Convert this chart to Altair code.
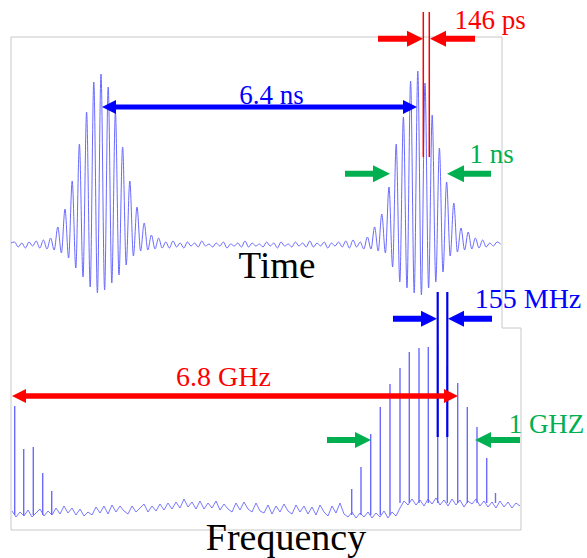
import altair as alt
import pandas as pd

# ---------------- data (chart units: 1 unit = 1 px, y measured downward) ----------------
# Time-domain trace, sampled every half oscillation period
time_start = 11.0
time_step = 3.6
time_vals = [243, 242, 247, 243, 248, 242, 246, 241, 248, 240,
             249, 238, 250, 227, 253, 209, 258, 181, 268, 144,
             277, 112, 287, 82, 293, 74, 290, 87, 283, 112,
             275, 147, 265, 181, 256, 207, 251, 223, 250, 235,
             249, 238, 248, 242, 248, 241, 247, 243, 248, 242,
             246, 243, 247, 241, 246, 244, 247, 243, 246, 242,
             248, 244, 246, 243, 247, 241, 247, 243, 246, 244,
             247, 242, 246, 243, 248, 242, 246, 244, 247, 242,
             246, 243, 247, 241, 247, 243, 246, 242, 248, 243,
             246, 242, 247, 241, 248, 240, 247, 242, 249, 237,
             249, 227, 251, 214, 253, 187, 267, 144, 282, 117,
             288, 81, 293, 71, 295, 83, 288, 115, 282, 148,
             272, 182, 256, 203, 252, 228, 250, 232, 249, 238,
             248, 240, 247, 243, 246, 242, 244]

# Spectrum noise floor
freq_start = 12.0
freq_step = 4.0
freq_noise = [511, 517, 512, 516, 510, 517, 513, 509, 516, 511,
              515, 508, 514, 506, 513, 508, 515, 509, 516, 512,
              515, 507, 513, 506, 514, 505, 512, 506, 511, 514,
              506, 512, 508, 504, 512, 506, 511, 504, 510, 503,
              509, 502, 508, 499, 507, 502, 509, 501, 509, 503,
              508, 501, 510, 504, 509, 512, 503, 510, 502, 509,
              512, 503, 511, 513, 505, 514, 506, 512, 504, 511,
              514, 505, 512, 506, 514, 507, 515, 505, 512, 516,
              506, 513, 503, 514, 517, 512, 518, 513, 517, 512,
              518, 513, 517, 511, 518, 512, 516, 508, 501, 505,
              499, 505, 500, 506, 499, 504, 498, 505, 500, 506,
              499, 505, 500, 507, 501, 504, 499, 506, 501, 507,
              502, 508, 501, 507, 502, 508, 503, 506]

# Spectral comb lines
comb_x = [14.7, 23.7, 33.3, 42.7, 51.7,
          351.7, 361.0, 370.7, 380.3, 390.0, 400.0, 409.3, 419.0, 428.3,
          437.7, 447.3, 457.7, 467.3, 477.0, 486.7, 495.5]
comb_top = [406, 449, 447, 473, 491,
            489, 467, 434, 407, 384, 368, 352, 348, 347,
            345, 366, 383, 407, 427, 458, 493]
comb_base = [515, 515, 515, 515, 515,
             515, 515, 515, 515, 515, 503, 503, 503, 503,
             503, 503, 503, 503, 503, 503, 503]

# Frame outline
frame_x = [11, 502, 502, 521, 521, 11, 11]
frame_y = [37, 37, 328, 328, 530, 530, 37]

# Text labels
labels = ["6.4 ns", "146 ps", "1 ns", "Time", "155 MHz", "6.8 GHz", "1 GHZ", "Frequency"]
label_x = [271.5, 490, 491.5, 277, 528, 223.5, 546.5, 286]
label_y = [104, 29, 163, 278, 308, 386, 433, 550]
label_color = ["#0000ff", "#ff0000", "#00b050", "#000000",
               "#0000ff", "#ff0000", "#00b050", "#000000"]
label_size = [27, 27, 27, 37, 28, 28, 27, 38]

# Arrows: y, tail x, tip x, colour, head half-size, shaft width
arrow_y = [107, 107, 38.7, 38.7, 173.7, 173.7, 318.7, 318.7, 396, 396, 440, 440]
arrow_tail = [259, 259, 378, 475, 345, 491, 393, 492, 235, 235, 327, 520]
arrow_tip = [102, 417, 423, 430, 390, 447, 437, 448, 12, 458, 371, 475]
arrow_color = ["#0000ff", "#0000ff", "#ff0000", "#ff0000", "#00b050", "#00b050",
               "#0000ff", "#0000ff", "#ff0000", "#ff0000", "#00b050", "#00b050"]
arrow_r = [7, 7, 8, 8, 8.5, 8.5, 8, 8, 7, 7, 8, 8]
arrow_w = [5, 5, 6, 6, 6, 6, 6, 6, 5.5, 5.5, 6, 6]

# Marker lines (period / comb spacing)
mark_x = [423.3, 429.3, 437.7, 447.3]
mark_top = [12, 12, 292, 292]
mark_bot = [157, 157, 437, 437]
mark_color = ["#ff0000", "#ff0000", "#0000ee", "#0000ee"]
mark_w = [1.5, 1.5, 2.2, 2.2]

# ---------------- tables ----------------
time_df = pd.DataFrame({"x": [time_start + time_step * i for i in range(len(time_vals))],
                        "y": time_vals})
noise_df = pd.DataFrame({"x": [freq_start + freq_step * i for i in range(len(freq_noise))],
                         "y": freq_noise})
comb_df = pd.DataFrame({"x": comb_x, "y": comb_top, "y2": comb_base})
frame_df = pd.DataFrame({"x": frame_x, "y": frame_y, "i": list(range(len(frame_x)))})
text_df = pd.DataFrame({"x": label_x, "y": label_y, "t": labels,
                        "c": label_color, "s": label_size})

right_path = "M-1,-1L1,0L-1,1Z"
left_path = "M1,-1L-1,0L1,1Z"
rows = []
for y, ta, ti, c, r, w in zip(arrow_y, arrow_tail, arrow_tip, arrow_color, arrow_r, arrow_w):
    d = 1 if ti > ta else -1
    hc = ti - d * r
    rows.append({"y": y, "x": ta, "x2": hc + d * 1, "hx": hc, "c": c,
                 "shape": right_path if d > 0 else left_path,
                 "size": (2 * r) ** 2, "w": w})
arrow_df = pd.DataFrame(rows)
mark_df = pd.DataFrame({"x": mark_x, "y": mark_top, "y2": mark_bot,
                        "c": mark_color, "w": mark_w})

xs = alt.Scale(domain=[0, 587], nice=False, zero=False)
ys = alt.Scale(domain=[0, 558], reverse=True, nice=False, zero=False)
X = lambda f="x": alt.X(f"{f}:Q", scale=xs, axis=None)
Y = lambda f="y": alt.Y(f"{f}:Q", scale=ys, axis=None)

frame = alt.Chart(frame_df).mark_line(color="#c8c8c8", strokeWidth=1).encode(
    x=X(), y=Y(), order=alt.Order("i:Q"))

trace_color = "#6a6aff"
time_line = alt.Chart(time_df).mark_line(color=trace_color, strokeWidth=1,
                                         interpolate="monotone").encode(x=X(), y=Y())
noise_line = alt.Chart(noise_df).mark_line(color=trace_color, strokeWidth=0.9).encode(
    x=X(), y=Y())
comb = alt.Chart(comb_df).mark_rule(color=trace_color, strokeWidth=1.4).encode(
    x=X(), y=Y(), y2=alt.Y2("y2:Q"))

markers = alt.Chart(mark_df).mark_rule().encode(
    x=X(), y=Y(), y2=alt.Y2("y2:Q"),
    color=alt.Color("c:N", scale=None),
    strokeWidth=alt.StrokeWidth("w:Q", scale=None))

shafts = alt.Chart(arrow_df).mark_rule(strokeCap="butt").encode(
    x=X(), x2=alt.X2("x2:Q"), y=Y(),
    color=alt.Color("c:N", scale=None),
    strokeWidth=alt.StrokeWidth("w:Q", scale=None))
heads = alt.Chart(arrow_df).mark_point(filled=True, opacity=1, strokeWidth=0).encode(
    x=X("hx"), y=Y(),
    shape=alt.Shape("shape:N", scale=None),
    size=alt.Size("size:Q", scale=None),
    color=alt.Color("c:N", scale=None))

texts = alt.Chart(text_df).mark_text(font="Liberation Serif", align="center",
                                     baseline="alphabetic").encode(
    x=X(), y=Y(), text="t:N",
    color=alt.Color("c:N", scale=None),
    size=alt.Size("s:Q", scale=None))

chart = alt.layer(frame, time_line, noise_line, comb, markers, shafts, heads, texts).properties(
    width=587, height=558, padding=0,
    autosize=alt.AutoSizeParams(type="none"),
    background="white",
).configure_view(stroke=None)

chart.save("out.html", embed_options={"renderer": "svg", "actions": False})
